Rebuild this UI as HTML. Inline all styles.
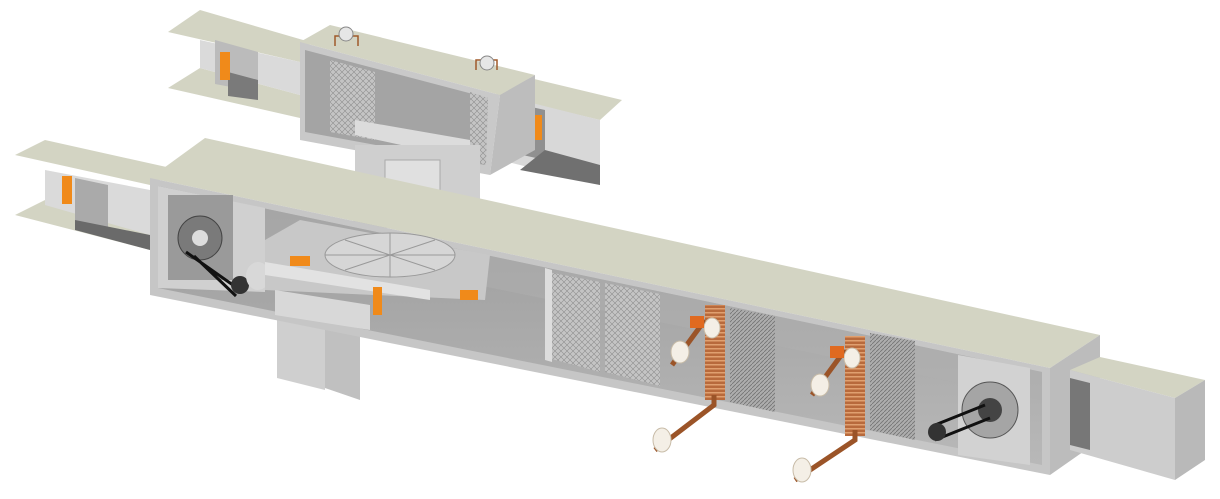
<!DOCTYPE html>
<html><head><meta charset="utf-8"><style>html,body{margin:0;padding:0;background:#fff}svg{display:block}</style></head>
<body>
<svg width="1220" height="499" viewBox="0 0 1220 499" xmlns="http://www.w3.org/2000/svg">
<defs>
<linearGradient id="floor" x1="0" y1="0" x2="0" y2="1"><stop offset="0" stop-color="#9a9a9a"/><stop offset="1" stop-color="#b8b8b8"/></linearGradient>
<pattern id="filt" width="6" height="6" patternUnits="userSpaceOnUse"><rect width="6" height="6" fill="#c4c4c4"/><path d="M0 0L6 6M6 0L0 6" stroke="#8e8e8e" stroke-width="0.6"/></pattern>
<pattern id="coil" width="4" height="4" patternUnits="userSpaceOnUse"><rect width="4" height="4" fill="#adadad"/><path d="M0 4L4 0" stroke="#727272" stroke-width="0.8"/></pattern>
<pattern id="cu" width="4" height="4" patternUnits="userSpaceOnUse"><rect width="4" height="4" fill="#b86a3c"/><rect y="0" width="4" height="1.5" fill="#e0a070"/></pattern>
</defs>

<!-- upper left duct -->
<polygon points="168,32 200,10 310,42 300,62" fill="#d3d4c3"/>
<polygon points="168,88 200,68 300,95 300,118" fill="#d3d4c3"/>
<polygon points="200,40 300,62 300,95 200,68" fill="#dadada"/>
<polygon points="215,40 258,52 258,92 215,84" fill="#bbb"/>
<polygon points="228,72 258,80 258,100 228,96" fill="#7a7a7a"/>
<rect x="220" y="52" width="10" height="28" fill="#f08a1a"/>

<!-- upper right duct -->
<polygon points="495,95 530,78 622,100 600,120" fill="#d3d4c3"/>
<polygon points="500,95 600,120 600,185 500,160" fill="#d8d8d8"/>
<polygon points="500,100 545,110 545,160 500,150" fill="#909090"/>
<polygon points="545,150 600,165 600,185 520,170" fill="#707070"/>
<rect x="534" y="115" width="8" height="25" fill="#f08a1a"/>
<rect x="500" y="100" width="25" height="55" fill="url(#coil)"/>

<!-- upper box -->
<polygon points="300,42 330,25 535,75 500,95" fill="#d3d4c3"/>
<polygon points="300,42 500,95 490,175 300,140" fill="#c9c9c9"/>
<polygon points="305,50 488,98 485,165 305,132" fill="#a4a4a4"/>
<polygon points="330,60 375,72 375,140 330,132" fill="url(#filt)"/>
<polygon points="470,92 488,98 486,165 470,160" fill="url(#filt)"/>
<polygon points="355,120 470,140 470,160 355,135" fill="#dcdcdc"/>
<polygon points="500,95 535,75 535,150 490,175" fill="#bdbdbd"/>

<!-- gauges -->
<g fill="none" stroke="#a05a2a" stroke-width="1.5"><path d="M335 46V36H358V46"/><path d="M476 70V60H497V70"/><path d="M556 240V230H582V240"/><path d="M612 254V244H640V254"/></g>
<g fill="#e6e6e6" stroke="#888"><circle cx="346" cy="34" r="7"/><circle cx="487" cy="63" r="7"/><circle cx="575" cy="236" r="8"/><circle cx="630" cy="244" r="8"/></g>

<!-- shaft -->
<rect x="355" y="145" width="125" height="70" fill="#cfcfcf"/>
<rect x="385" y="160" width="55" height="45" fill="#e0e0e0" stroke="#aaa"/>
<polygon points="350,210 485,210 480,228 355,228" fill="#b5b5b5"/>

<!-- left duct -->
<polygon points="15,155 45,140 180,170 150,185" fill="#d3d4c3"/>
<polygon points="15,215 45,200 150,232 150,250" fill="#d3d4c3"/>
<polygon points="45,170 150,190 150,235 45,205" fill="#dadada"/>
<polygon points="75,178 108,185 108,235 75,225" fill="#aaa"/>
<polygon points="75,220 150,235 150,250 75,230" fill="#6a6a6a"/>
<rect x="62" y="176" width="10" height="28" fill="#f08a1a"/>

<!-- legs -->
<polygon points="277,318 325,328 325,390 277,378" fill="#cfcfcf"/>
<polygon points="325,328 360,334 360,400 325,388" fill="#c0c0c0"/>

<!-- main box -->
<polygon points="150,178 205,138 1100,335 1050,368" fill="#d3d4c3"/>
<polygon points="150,178 1050,368 1050,475 150,295" fill="#c6c6c6"/>
<polygon points="158,186 1042,372 1042,465 158,288" fill="url(#floor)"/>
<polygon points="158,186 1042,372 1042,400 158,220" fill="#b0b0b0" opacity="0.5"/>
<!-- fan section left -->
<polygon points="158,186 265,208 265,292 158,288" fill="#d0d0d0"/>
<rect x="168" y="195" width="65" height="85" fill="#9a9a9a"/>
<circle cx="200" cy="238" r="22" fill="#7a7a7a" stroke="#444"/>
<circle cx="200" cy="238" r="8" fill="#ddd"/>
<path d="M186 252L240 290M194 256L236 296" stroke="#111" stroke-width="3"/>
<circle cx="240" cy="285" r="9" fill="#333"/>
<ellipse cx="258" cy="276" rx="12" ry="14" fill="#d8d8d8"/>
<!-- heat wheel section -->
<polygon points="265,240 300,220 490,255 485,300 265,290" fill="#c8c8c8"/>
<ellipse cx="390" cy="255" rx="65" ry="22" fill="#d6d6d6" stroke="#999"/>
<path d="M325 255H455M390 233V277M345 240L435 270M345 270L435 240" stroke="#999"/>
<polygon points="265,262 430,290 430,300 265,275" fill="#e2e2e2"/>
<rect x="290" y="256" width="20" height="10" fill="#f08a1a"/>
<rect x="460" y="290" width="18" height="10" fill="#f08a1a"/>
<rect x="373" y="287" width="9" height="28" fill="#f08a1a"/>
<polygon points="275,290 370,305 370,330 275,315" fill="#d8d8d8"/>
<!-- filters -->
<polygon points="548,272 600,282 600,372 548,358" fill="url(#filt)"/>
<polygon points="605,283 660,294 660,386 605,372" fill="url(#filt)"/>
<polygon points="545,268 552,270 552,362 545,360" fill="#ddd"/>
<!-- coils -->
<polygon points="730,308 775,316 775,412 730,402" fill="url(#coil)"/>
<polygon points="870,333 915,341 915,440 870,430" fill="url(#coil)"/>
<rect x="705" y="305" width="20" height="95" fill="url(#cu)"/>
<rect x="845" y="336" width="20" height="100" fill="url(#cu)"/>
<!-- pipes -->
<g stroke="#9b5428" stroke-width="5" fill="none"><path d="M705 320L672 365"/><path d="M714 395V405L655 450"/><path d="M845 350L812 395"/><path d="M855 430V440L795 480"/></g>
<g fill="#f4efe6" stroke="#c8bca8"><ellipse cx="680" cy="352" rx="9" ry="11"/><ellipse cx="662" cy="440" rx="9" ry="12"/><ellipse cx="820" cy="385" rx="9" ry="11"/><ellipse cx="802" cy="470" rx="9" ry="12"/><ellipse cx="712" cy="328" rx="8" ry="10"/><ellipse cx="852" cy="358" rx="8" ry="10"/></g>
<rect x="690" y="316" width="14" height="12" fill="#e06a20"/>
<rect x="830" y="346" width="14" height="12" fill="#e06a20"/>
<!-- right fan -->
<polygon points="958,355 1030,368 1030,465 958,455" fill="#d2d2d2"/>
<circle cx="990" cy="410" r="28" fill="#a5a5a5" stroke="#555"/>
<circle cx="990" cy="410" r="12" fill="#444"/>
<path d="M935 425L985 405M935 440L990 418" stroke="#111" stroke-width="3"/>
<circle cx="937" cy="432" r="9" fill="#333"/>
<!-- right end -->
<polygon points="1050,368 1100,335 1100,440 1050,475" fill="#bcbcbc"/>
<!-- outlet duct -->
<polygon points="1070,370 1100,357 1205,380 1175,398" fill="#d3d4c3"/>
<polygon points="1070,370 1175,398 1175,480 1070,450" fill="#cdcdcd"/>
<polygon points="1070,378 1090,383 1090,450 1070,445" fill="#777"/>
<polygon points="1175,398 1205,380 1205,460 1175,480" fill="#b9b9b9"/>
</svg>
</body></html>
